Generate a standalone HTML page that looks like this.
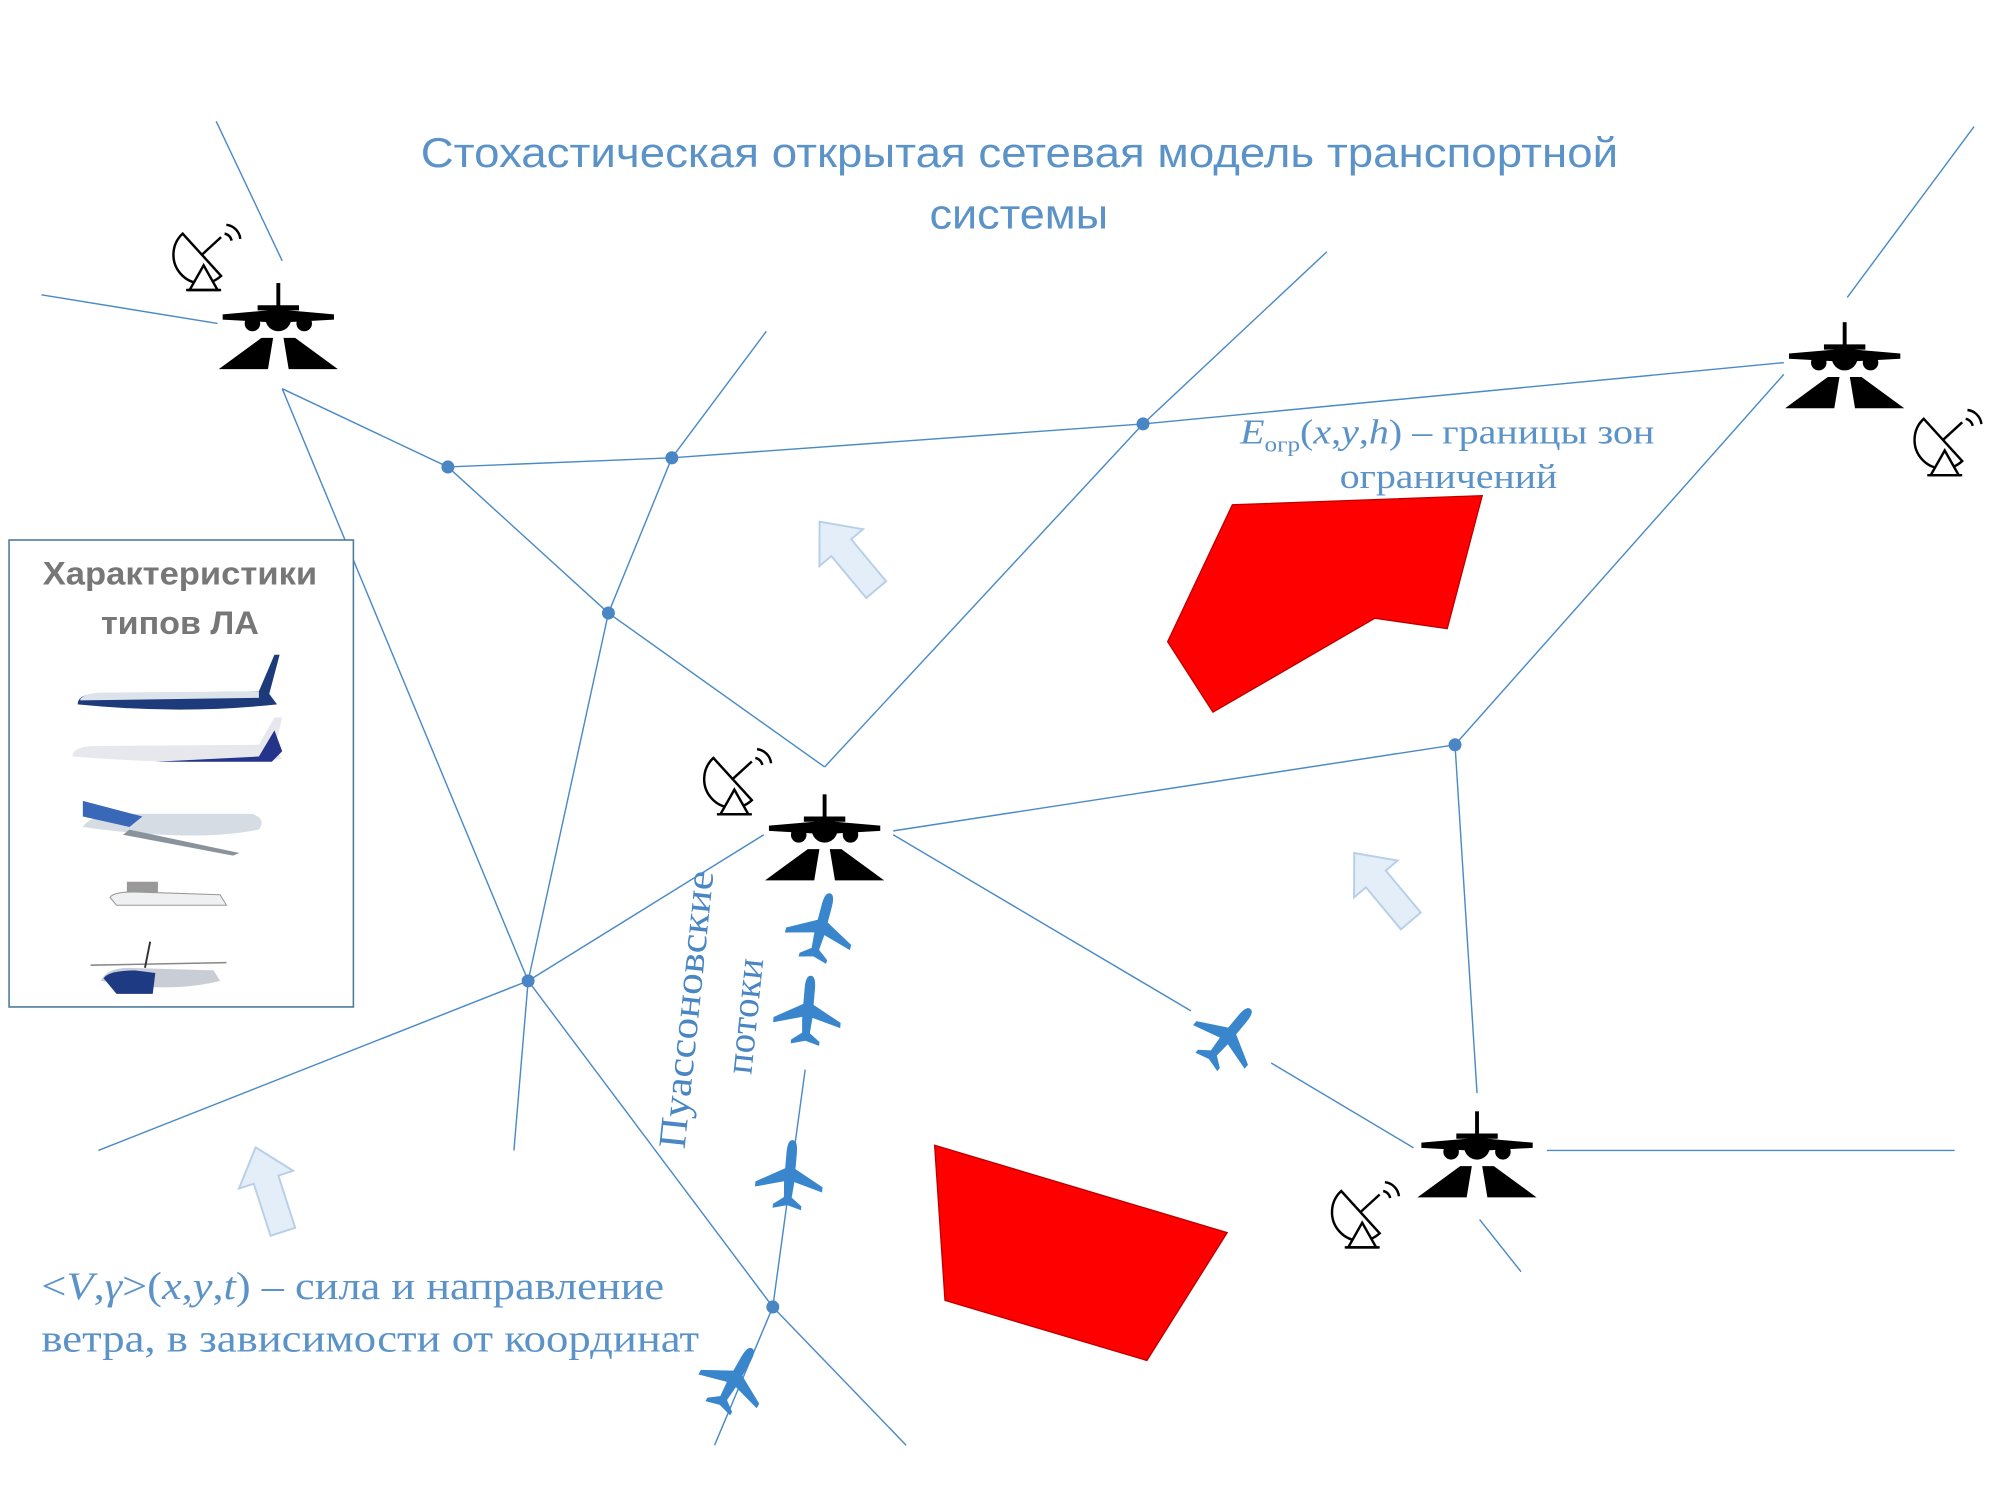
<!DOCTYPE html>
<html><head><meta charset="utf-8"><style>
html,body{margin:0;padding:0;background:#fff;width:2000px;height:1500px;overflow:hidden}
svg{display:block}
</style></head><body>
<svg width="2000" height="1500" viewBox="0 0 1545 1150" preserveAspectRatio="none" xmlns="http://www.w3.org/2000/svg">
<defs>
<g id="ap">
  <line x1="0" y1="-28" x2="0" y2="-8" stroke="#000" stroke-width="3"/>
  <polygon points="-16,-11 16,-11 16,-7 -16,-7" fill="#000"/>
  <polygon points="-43,-4 -8,-7 8,-7 43,-4 43,0 8,2 -8,2 -43,0" fill="#000"/>
  <circle cx="0" cy="-1" r="10" fill="#000"/>
  <circle cx="-20" cy="3" r="6" fill="#000"/>
  <circle cx="20" cy="3" r="6" fill="#000"/>
  <polygon points="-13,14 -4,14 -8,38 -46,38" fill="#000"/>
  <polygon points="13,14 4,14 8,38 46,38" fill="#000"/>
</g>
<g id="bp">
  <path d="M0,-28 C3,-28 4,-24 4,-18 L4,-6 L26,6 L26,10 L4,4 L3,16 L11,22 L11,25 L0,22 L-11,25 L-11,22 L-3,16 L-4,4 L-26,10 L-26,6 L-4,-6 L-4,-18 C-4,-24 -3,-28 0,-28 Z" fill="#3a86cc"/>
</g>
<g id="rd" fill="none" stroke="#000" stroke-width="1.4" transform="scale(1.35)">
  <path d="M-14,-14 A16,16 0 0 0 8,10 Z" fill="#fff"/>
  <line x1="-3" y1="-2" x2="8" y2="-12"/>
  <path d="M-10,18 L-2,4 L6,18 Z" fill="#fff"/>
  <line x1="-12" y1="18" x2="8" y2="18"/>
  <path d="M10,-14 A5,5 0 0 1 14,-10 M11,-19 A9,9 0 0 1 19,-11"/>
</g>
<g id="warr">
  <path d="M0,-34 L22,-8 L10,-8 L10,34 L-10,34 L-10,-8 L-22,-8 Z" fill="#e3eef9" stroke="#b8cfe8" stroke-width="1.5"/>
</g>
</defs>

<g stroke="#4a8ac6" stroke-width="1.1" fill="none">
  <line x1="167" y1="93" x2="218" y2="200"/>
  <line x1="32" y1="226" x2="168" y2="248"/>
  <line x1="218" y1="298" x2="346" y2="358"/>
  <line x1="346" y1="358" x2="470" y2="470"/>
  <line x1="470" y1="470" x2="637" y2="588"/>
  <line x1="218" y1="298" x2="408" y2="752"/>
  <line x1="408" y1="752" x2="597" y2="1002"/>
  <line x1="597" y1="1002" x2="700" y2="1108"/>
  <line x1="346" y1="358" x2="519" y2="351"/>
  <line x1="519" y1="351" x2="883" y2="325"/>
  <line x1="883" y1="325" x2="1378" y2="278"/>
  <line x1="519" y1="351" x2="592" y2="254"/>
  <line x1="519" y1="351" x2="470" y2="470"/>
  <line x1="470" y1="470" x2="408" y2="752"/>
  <line x1="408" y1="752" x2="397" y2="882"/>
  <line x1="883" y1="325" x2="1025" y2="193"/>
  <line x1="883" y1="325" x2="637" y2="588"/>
  <line x1="76" y1="882" x2="408" y2="752"/>
  <line x1="408" y1="752" x2="590" y2="640"/>
  <line x1="690" y1="637" x2="1124" y2="571"/>
  <line x1="1124" y1="571" x2="1378" y2="287"/>
  <line x1="1124" y1="571" x2="1141" y2="838"/>
  <line x1="690" y1="640" x2="920" y2="775"/>
  <line x1="982" y1="815" x2="1092" y2="880"/>
  <line x1="1143" y1="935" x2="1175" y2="975"/>
  <line x1="1195" y1="882" x2="1510" y2="882"/>
  <line x1="1427" y1="228" x2="1525" y2="97"/>
  <line x1="597" y1="1002" x2="552" y2="1108"/>
  <line x1="622" y1="820" x2="597" y2="1002"/>
</g>
<g fill="#4a86c4">
  <circle cx="346" cy="358" r="5"/><circle cx="519" cy="351" r="5"/><circle cx="883" cy="325" r="5"/>
  <circle cx="470" cy="470" r="5"/><circle cx="408" cy="752" r="5"/><circle cx="1124" cy="571" r="5"/>
  <circle cx="597" cy="1002" r="5"/>
</g>

<polygon points="952,387 1145,380 1118,482 1062,474 937,546 902,492" fill="#ff0000" stroke="#b00" stroke-width="1"/>
<polygon points="722,878 948,945 886,1043 730,997" fill="#ff0000" stroke="#b00" stroke-width="1"/>

<use href="#ap" x="215" y="245"/>
<use href="#ap" x="1425" y="275"/>
<use href="#ap" x="637" y="637"/>
<use href="#ap" x="1141" y="880"/>

<use href="#rd" x="160" y="198"/>
<use href="#rd" x="1505" y="340"/>
<use href="#rd" x="570" y="600"/>
<use href="#rd" x="1055" y="932"/>

<use href="#bp" transform="translate(634,712) rotate(15)"/>
<use href="#bp" transform="translate(624,776) rotate(5)"/>
<use href="#bp" transform="translate(610,902) rotate(5)"/>
<use href="#bp" transform="translate(567,1058) rotate(30)"/>
<use href="#bp" transform="translate(948,795) rotate(40)"/>

<use href="#warr" transform="translate(655,426) rotate(-40)"/>
<use href="#warr" transform="translate(1068,680) rotate(-40)"/>
<use href="#warr" transform="translate(208,912) rotate(-18)"/>

<text x="325" y="128" textLength="925" lengthAdjust="spacingAndGlyphs" font-family="Liberation Sans Narrow, Liberation Sans, sans-serif" font-size="32" fill="#5b93c8">Стохастическая открытая сетевая модель транспортной</text>
<text x="718" y="175" textLength="138" lengthAdjust="spacingAndGlyphs" font-family="Liberation Sans, sans-serif" font-size="32" fill="#5b93c8">системы</text>

<text font-family="Liberation Serif, serif" font-size="27" fill="#5b93c8" x="958" y="340" textLength="320" lengthAdjust="spacingAndGlyphs"><tspan font-style="italic">E</tspan><tspan font-size="17" dy="6">огр</tspan><tspan dy="-6">(</tspan><tspan font-style="italic">x</tspan>,<tspan font-style="italic">y</tspan>,<tspan font-style="italic">h</tspan>) – границы зон</text>
<text font-family="Liberation Serif, serif" font-size="27" fill="#5b93c8" x="1035" y="374" textLength="168" lengthAdjust="spacingAndGlyphs">ограничений</text>

<text font-family="Liberation Serif, serif" font-size="30" fill="#5b93c8" x="32" y="996" textLength="481" lengthAdjust="spacingAndGlyphs">&lt;<tspan font-style="italic">V</tspan>,<tspan font-style="italic">γ</tspan>&gt;(<tspan font-style="italic">x</tspan>,<tspan font-style="italic">y</tspan>,<tspan font-style="italic">t</tspan>) – сила  и направление</text>
<text font-family="Liberation Serif, serif" font-size="30" fill="#5b93c8" x="32" y="1036" textLength="508" lengthAdjust="spacingAndGlyphs">ветра,  в зависимости  от координат</text>

<text transform="translate(540,775) rotate(-84)" text-anchor="middle" font-family="Liberation Serif, serif" font-size="30" fill="#4a86c4" textLength="214" lengthAdjust="spacingAndGlyphs">Пуассоновские</text>
<text transform="translate(585,780) rotate(-84)" text-anchor="middle" font-family="Liberation Serif, serif" font-size="30" fill="#4a86c4">потоки</text>

<rect x="7" y="414" width="266" height="358" fill="#fff" stroke="#4a7a9a" stroke-width="1.2"/>
<text x="33" y="448" textLength="212" lengthAdjust="spacingAndGlyphs" font-family="Liberation Sans, sans-serif" font-weight="bold" font-size="25" fill="#777">Характеристики</text>
<text x="78" y="486" textLength="122" lengthAdjust="spacingAndGlyphs" font-family="Liberation Sans, sans-serif" font-weight="bold" font-size="25" fill="#777">типов ЛА</text>
<g>
  <path d="M60,540 Q60,533 72,532 L200,530 L212,502 L216,502 L208,532 L214,540 Q140,548 60,540 Z" fill="#1d3a7a"/>
  <path d="M62,536 Q66,531 80,531 L200,530 L200,535 L62,537 Z" fill="#dde3ea"/>
  <path d="M56,580 Q56,573 70,572 L200,571 L212,550 L218,550 L212,574 L218,582 Q140,587 56,580 Z" fill="#e6e8ee"/>
  <path d="M120,584 L200,580 L212,560 L218,576 L210,584 Z" fill="#24348a"/>
  <path d="M64,634 Q68,626 90,624 L195,624 Q206,628 200,636 Q150,646 64,634 Z" fill="#d6dce4"/>
  <path d="M64,614 L110,626 L100,634 L64,626 Z" fill="#3a68b8"/>
  <path d="M100,636 L185,654 L180,656 L95,640 Z" fill="#8a929c"/>
  <path d="M85,688 Q88,683 110,684 L170,686 L175,694 L90,694 Z" fill="#eef0f2" stroke="#999" stroke-width="0.8"/>
  <rect x="98" y="676" width="24" height="8" fill="#999"/>
  <path d="M70,740 L175,738" stroke="#888" stroke-width="1.2"/>
  <path d="M78,752 Q82,742 100,742 L165,744 L170,752 Q130,762 78,752 Z" fill="#c8cdd6"/>
  <path d="M80,750 Q84,744 104,744 L120,746 L118,762 L90,762 Z" fill="#1e3a82"/>
  <line x1="112" y1="742" x2="116" y2="722" stroke="#333" stroke-width="1.5"/>
</g>
</svg>
</body></html>
